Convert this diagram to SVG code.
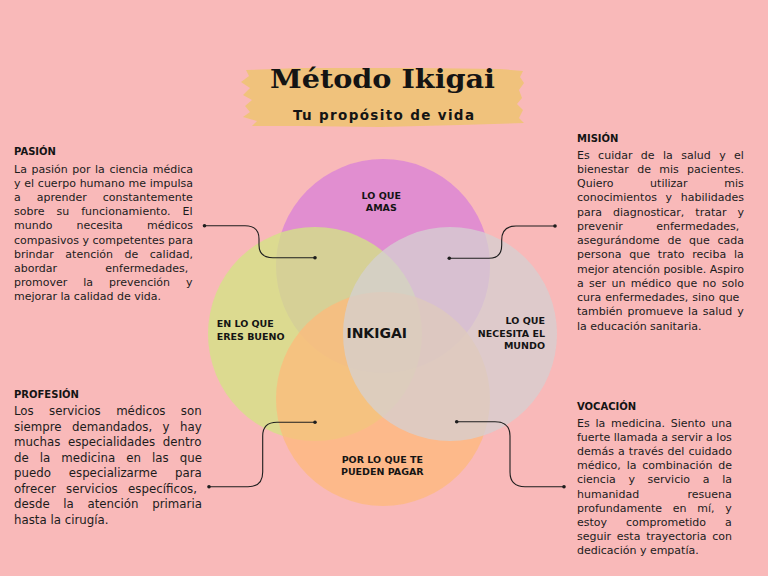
<svg xmlns="http://www.w3.org/2000/svg" width="768" height="576" viewBox="0 0 768 576">
<defs>
<style>
.bg{fill:#F9B9B9}
.c{fill-opacity:0.75}
.lbl{font-family:"DejaVu Sans",sans-serif;font-weight:bold;font-size:9.5px;fill:#141414}
.hd{font-family:"DejaVu Sans",sans-serif;font-weight:bold;font-size:10px;fill:#141414}
.t{font-family:"DejaVu Sans",sans-serif;font-size:11px;fill:#1c1c1c}
.tp{font-family:"DejaVu Sans",sans-serif;font-size:11.8px;fill:#1c1c1c}
.conn{fill:none;stroke:#1e1e1e;stroke-width:1.1}
</style>
<marker id="dot" markerUnits="userSpaceOnUse" markerWidth="6" markerHeight="6" refX="3" refY="3">
<circle cx="3" cy="3" r="1.8" fill="#1e1e1e"/>
</marker>
</defs>
<rect class="bg" x="0" y="0" width="768" height="576"/>

<g id="title">
<path d="M246,70 L300,68 L420,68 L500,69 L523,71 L520,77 L524,83 L519,90 L522,98 L517,104 L523,110 L519,118 L524,123 L460,125 L380,127 L300,126 L252,126 L257,121 L243,117 L250,112 L245,106 L252,100 L243,95 L250,88 L241,82 L249,76 Z" fill="#F0C27C"/>
<text x="382.5" y="88.3" text-anchor="middle" font-family="'DejaVu Serif',serif" font-weight="bold" font-size="26" textLength="225" lengthAdjust="spacingAndGlyphs" fill="#141414">Método Ikigai</text>
<text x="383.5" y="120" text-anchor="middle" font-family="'DejaVu Sans',sans-serif" font-weight="bold" font-size="13.5" textLength="181" lengthAdjust="spacing" fill="#141414">Tu propósito de vida</text>
</g>

<g id="circle-amas"><circle class="c" cx="383" cy="266" r="107" fill="#D880D8"/></g>
<g id="circle-bueno"><circle class="c" cx="315" cy="334" r="107" fill="#D2E583"/></g>
<g id="circle-pagar"><circle class="c" cx="383" cy="399" r="107" fill="#FEB97B"/></g>
<g id="circle-mundo"><circle class="c" cx="450" cy="334" r="107" fill="#D4D0D1"/></g>

<g id="labels">
<text class="lbl" x="381.3" y="199" text-anchor="middle">LO QUE</text>
<text class="lbl" x="381.3" y="210.7" text-anchor="middle">AMAS</text>
<text class="lbl" x="216.7" y="327.3">EN LO QUE</text>
<text class="lbl" x="216.7" y="340">ERES BUENO</text>
<text class="lbl" x="545" y="324" text-anchor="end">LO QUE</text>
<text class="lbl" x="545" y="336.7" text-anchor="end">NECESITA EL</text>
<text class="lbl" x="545" y="349" text-anchor="end">MUNDO</text>
<text class="lbl" x="382.3" y="462.7" text-anchor="middle">POR LO QUE TE</text>
<text class="lbl" x="382.3" y="475" text-anchor="middle">PUEDEN PAGAR</text>
<text x="376.7" y="338.3" text-anchor="middle" font-family="'DejaVu Sans',sans-serif" font-weight="bold" font-size="14" fill="#141414">INKIGAI</text>
</g>

<g id="connectors">
<path class="conn" marker-start="url(#dot)" marker-end="url(#dot)" d="M204.5,225.7 H245 Q259,225.7 259,239 V245 Q259,257.7 273,257.7 H315"/>
<path class="conn" marker-start="url(#dot)" marker-end="url(#dot)" d="M449.3,258.3 H489 Q501.7,258.3 501.7,245 V240 Q501.7,226 516,226 H555"/>
<path class="conn" marker-start="url(#dot)" marker-end="url(#dot)" d="M315,422.3 H277 Q262.7,422.3 262.7,436 V472 Q262.7,486.7 248,486.7 H209"/>
<path class="conn" marker-start="url(#dot)" marker-end="url(#dot)" d="M456.7,421.7 H495 Q510,421.7 510,436 V472 Q510,486.7 525,486.7 H564"/>
</g>

<g id="node-pasion">
<text class="hd" x="14" y="155">PASIÓN</text>
<text class="t" x="14" y="172.5" word-spacing="1.08">La pasión por la ciencia médica</text>
<text class="t" x="14" y="186.7" word-spacing="0.26">y el cuerpo humano me impulsa</text>
<text class="t" x="14" y="200.9" word-spacing="12.5">a aprender constantemente</text>
<text class="t" x="14" y="215.1" word-spacing="8.53">sobre su funcionamiento. El</text>
<text class="t" x="14" y="229.3" word-spacing="20.6">mundo necesita médicos</text>
<text class="t" x="14" y="243.5">compasivos y competentes para</text>
<text class="t" x="14" y="257.7" word-spacing="8.07">brindar atención de calidad,</text>
<text class="t" x="14" y="271.9" word-spacing="44.8">abordar enfermedades,</text>
<text class="t" x="14" y="286.1" word-spacing="12.47">promover la prevención y</text>
<text class="t" x="14" y="300.3">mejorar la calidad de vida.</text>
</g>

<g id="node-mision">
<text class="hd" x="577" y="142.3">MISIÓN</text>
<text class="t" x="577" y="158.5" word-spacing="4.93">Es cuidar de la salud y el</text>
<text class="t" x="577" y="172.75" word-spacing="4.83">bienestar de mis pacientes.</text>
<text class="t" x="577" y="187" word-spacing="33.15">Quiero utilizar mis</text>
<text class="t" x="577" y="201.25" word-spacing="5.25">conocimientos y habilidades</text>
<text class="t" x="577" y="215.5" word-spacing="7.5">para diagnosticar, tratar y</text>
<text class="t" x="577" y="229.75" word-spacing="29.9">prevenir enfermedades,</text>
<text class="t" x="577" y="244" word-spacing="4.3">asegurándome de que cada</text>
<text class="t" x="577" y="258.25" word-spacing="4.33">persona que trato reciba la</text>
<text class="t" x="577" y="272.5">mejor atención posible. Aspiro</text>
<text class="t" x="577" y="286.75" word-spacing="1.88">a ser un médico que no solo</text>
<text class="t" x="577" y="301" word-spacing="0.5">cura enfermedades, sino que</text>
<text class="t" x="577" y="315.25" word-spacing="1.42">también promueve la salud y</text>
<text class="t" x="577" y="329.5">la educación sanitaria.</text>
</g>

<g id="node-profesion">
<text class="hd" x="14" y="398.3" font-size="10.5">PROFESIÓN</text>
<text class="tp" x="14" y="415" word-spacing="11.63">Los servicios médicos son</text>
<text class="tp" x="14" y="430.6" word-spacing="6.67">siempre demandados, y hay</text>
<text class="tp" x="14" y="446.1" word-spacing="3.83">muchas especialidades dentro</text>
<text class="tp" x="14" y="461.7" word-spacing="7.27">de la medicina en las que</text>
<text class="tp" x="14" y="477.3" word-spacing="14.05">puedo especializarme para</text>
<text class="tp" x="14" y="492.9" word-spacing="6.55">ofrecer servicios específicos,</text>
<text class="tp" x="14" y="508.4" word-spacing="9.93">desde la atención primaria</text>
<text class="tp" x="14" y="524">hasta la cirugía.</text>
</g>

<g id="node-vocacion">
<text class="hd" x="577" y="410">VOCACIÓN</text>
<text class="t" x="577" y="426.5" word-spacing="2.3">Es la medicina. Siento una</text>
<text class="t" x="577" y="440.7">fuerte llamada a servir a los</text>
<text class="t" x="577" y="454.9" word-spacing="0.6">demás a través del cuidado</text>
<text class="t" x="577" y="469.1" word-spacing="2.37">médico, la combinación de</text>
<text class="t" x="577" y="483.3" word-spacing="9.2">ciencia y servicio a la</text>
<text class="t" x="577" y="497.5" word-spacing="44.9">humanidad resuena</text>
<text class="t" x="577" y="511.7" word-spacing="7.23">profundamente en mí, y</text>
<text class="t" x="577" y="525.9" word-spacing="15.45">estoy comprometido a</text>
<text class="t" x="577" y="540.1" word-spacing="2.3">seguir esta trayectoria con</text>
<text class="t" x="577" y="554.3">dedicación y empatía.</text>
</g>
</svg>
